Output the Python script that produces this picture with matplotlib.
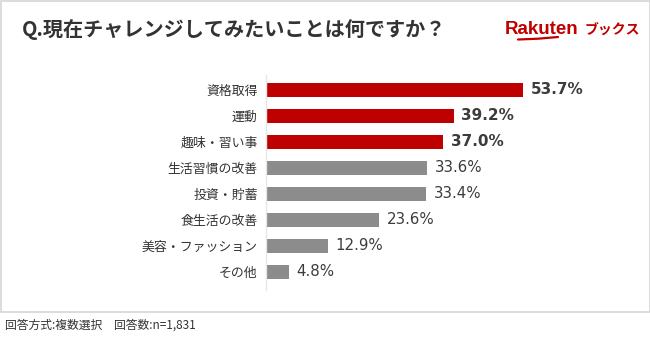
import matplotlib
matplotlib.use("Agg")
import matplotlib.pyplot as plt
from matplotlib.patches import Rectangle

plt.rcParams['font.family'] = ['Noto Sans CJK JP', 'DejaVu Sans']

categories = ["資格取得", "運動", "趣味・習い事", "生活習慣の改善", "投資・貯蓄",
              "食生活の改善", "美容・ファッション", "その他"]
values = [53.7, 39.2, 37.0, 33.6, 33.4, 23.6, 12.9, 4.8]
highlight = [True, True, True, False, False, False, False, False]

title = "Q.現在チャレンジしてみたいことは何ですか？"
footer = "回答方式:複数選択　回答数:n=1,831"

RED = "#bf0000"
GRAY = "#8c8c8c"
TEXT = "#333333"

W, H = 650, 340
fig = plt.figure(figsize=(W / 100, H / 100), dpi=100)
fig.patch.set_facecolor("white")

# outer frame
fig.patches.append(Rectangle((0.5 / W, 1 - 312 / H), 649 / W, 311.5 / H,
                             transform=fig.transFigure, fill=False,
                             edgecolor="#d5d5d5", linewidth=1.2))

# plot area in pixel coordinates
x0, x1 = 266, 640
y_top, y_bot = 75, 290
scale = 4.786  # pixels per percent
ax = fig.add_axes([x0 / W, 1 - y_bot / H, (x1 - x0) / W, (y_bot - y_top) / H])
ax.set_xlim(0, (x1 - x0) / scale)
ax.set_ylim((y_bot - 90) / 26, (y_top - 90) / 26)

colors = [RED if h else GRAY for h in highlight]
pos = list(range(len(categories)))
ax.barh(pos, values, height=14 / 26, color=colors, zorder=2)

for p, v, h in zip(pos, values, highlight):
    ax.text(v + 1.6, p, f"{v:.1f}%", va="center", ha="left",
            fontsize=11 if h else 10.8, fontweight="bold" if h else "normal",
            color="#3c3c3c", family=["DejaVu Sans"])

ax.set_yticks(pos)
ax.set_yticklabels(categories, fontsize=9.3, color=TEXT)
ax.tick_params(axis="y", length=0, pad=6)
ax.set_xticks([])
for s in ["top", "right", "bottom"]:
    ax.spines[s].set_visible(False)
ax.spines["left"].set_color("#e6e6e6")
ax.spines["left"].set_linewidth(1)

# title
fig.text(22 / W, 1 - 29 / H, title, fontsize=14.5, fontweight="bold",
         color=TEXT, va="center", ha="left")

# brand mark
fig.text(505 / W, 1 - 30 / H, "Rakuten", fontsize=13.5, fontweight="bold",
         color=RED, va="center", ha="left", family=["Liberation Sans"])
fig.text(585 / W, 1 - 30 / H, "ブックス", fontsize=10, fontweight="bold",
         color=RED, va="center", ha="left")
fig.add_artist(plt.Line2D([518 / W, 538 / W, 558 / W],
                          [1 - 39.5 / H, 1 - 38.7 / H, 1 - 37 / H],
                          transform=fig.transFigure, color=RED,
                          linewidth=1.6, solid_capstyle="round"))

# footer
fig.text(5 / W, 1 - 325 / H, footer, fontsize=8.5, color=TEXT,
         va="center", ha="left")

fig.savefig("out.png", dpi=100, facecolor="white")
